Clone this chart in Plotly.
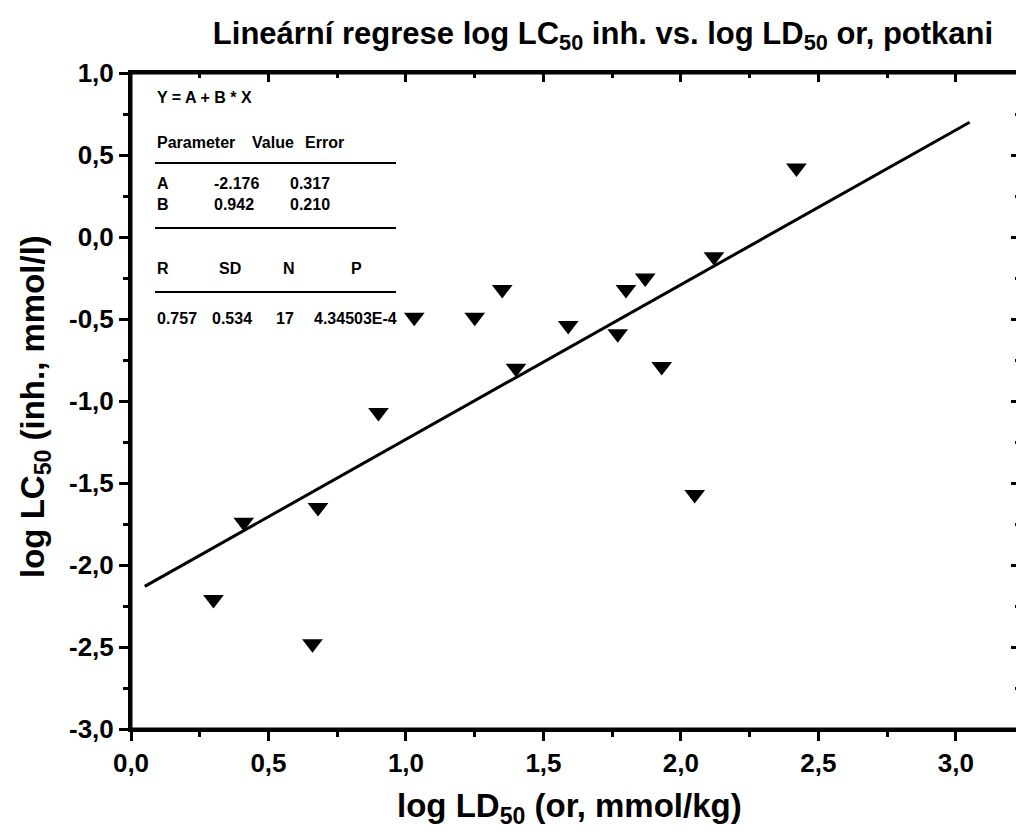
import plotly.graph_objects as go

# measured points (log LD50 oral, log LC50 inhalation)
ld50 = [0.30, 0.41, 0.66, 0.68, 0.90, 1.03, 1.25, 1.35, 1.40, 1.59,
        1.77, 1.80, 1.87, 1.93, 2.05, 2.12, 2.42]
lc50 = [-2.21, -1.74, -2.48, -1.65, -1.07, -0.49, -0.49, -0.32, -0.80, -0.54,
        -0.59, -0.32, -0.25, -0.79, -1.57, -0.12, 0.42]

# regression line ends
fit_x = [0.05, 3.05]
fit_y = [-2.13, 0.70]

x_ticks = [0.0, 0.5, 1.0, 1.5, 2.0, 2.5, 3.0]
x_labels = ["0,0", "0,5", "1,0", "1,5", "2,0", "2,5", "3,0"]
y_ticks = [-3.0, -2.5, -2.0, -1.5, -1.0, -0.5, 0.0, 0.5, 1.0]
y_labels = ["-3,0", "-2,5", "-2,0", "-1,5", "-1,0", "-0,5", "0,0", "0,5", "1,0"]

FONT = "Liberation Sans"
OFF = 8  # page body margin
W, H = 1024 - OFF, 839 - OFF
# plot area in page pixels
L, R, T, B = 131, 1020, 73, 729


def px(x):
    return (x - L) / (R - L)


def py(y):
    return (B - y) / (B - T)


fig = go.Figure()
fig.add_trace(go.Scatter(
    x=fit_x, y=fit_y, mode="lines",
    line=dict(color="black", width=3), showlegend=False,
))
fig.add_trace(go.Scatter(
    x=ld50, y=lc50, mode="markers",
    marker=dict(symbol="triangle-down", size=18, color="black"),
    showlegend=False,
))

axis_common = dict(
    showline=True, mirror=True, linecolor="black", linewidth=3, showgrid=False,
    automargin=False, zeroline=False, ticks="outside", ticklen=9, tickwidth=3,
    tickcolor="black", tickfont=dict(family=FONT, size=26, color="black", weight="bold"),
)
mirror_common = dict(
    showticklabels=False, automargin=False, showline=True, linecolor="black",
    linewidth=3, showgrid=False, zeroline=False, ticks="inside", ticklen=9,
    tickwidth=3, tickcolor="black", dtick=0.5,
)
title_font = dict(family=FONT, size=31, color="black", weight="bold")
axis_title_font = dict(family=FONT, size=33, color="black", weight="bold")

fig.update_layout(
    width=W, height=H,
    margin=dict(l=L - OFF, r=W - (R - OFF), t=T - OFF, b=H - (B - OFF)),
    plot_bgcolor="white", paper_bgcolor="white",
    title=dict(
        text="Lineární regrese log LC<sub>50</sub> inh. vs. log LD<sub>50</sub> or, potkani",
        x=(603 - OFF) / W, xanchor="center", y=1 - (33 - OFF) / H, yanchor="middle",
        font=title_font,
    ),
    xaxis=dict(
        range=[0, 3.233], tickmode="array", tickvals=x_ticks, ticktext=x_labels,
        minor=dict(ticks="outside", ticklen=5, tickwidth=3, tickcolor="black", dtick=0.25),
        **axis_common,
    ),
    yaxis=dict(
        range=[-3, 1], tickmode="array", tickvals=y_ticks, ticktext=y_labels,
        minor=dict(ticks="outside", ticklen=5, tickwidth=3, tickcolor="black", dtick=0.25),
        **axis_common,
    ),
    xaxis2=dict(
        overlaying="x", side="top", range=[0, 3.233], tick0=0,
        minor=dict(ticks="inside", ticklen=5, tickwidth=3, tickcolor="black", dtick=0.25),
        **mirror_common,
    ),
    yaxis2=dict(
        overlaying="y", side="right", range=[-3, 1], tick0=-3,
        minor=dict(ticks="inside", ticklen=5, tickwidth=3, tickcolor="black", dtick=0.25),
        **mirror_common,
    ),
)
# dummy trace so the mirrored axes are drawn
fig.add_trace(go.Scatter(x=[None], y=[None], xaxis="x2", yaxis="y2", showlegend=False))

# plot frame
fig.add_shape(
    type="rect", xref="paper", yref="paper", x0=0, x1=1, y0=0, y1=1,
    line=dict(color="black", width=3), layer="above",
)

# axis titles
fig.add_annotation(
    x=px(569), y=py(808), xref="paper", yref="paper", showarrow=False,
    text="log LD<sub>50</sub> (or, mmol/kg)", font=axis_title_font,
    xanchor="center", yanchor="middle",
)
fig.add_annotation(
    x=px(35), y=py(407), xref="paper", yref="paper", showarrow=False,
    text="log LC<sub>50</sub> (inh., mmol/l)", font=axis_title_font, textangle=-90,
    xanchor="center", yanchor="middle",
)

# fit-results box
box_font = dict(family=FONT, size=16, color="black", weight="bold")
rows = [
    (155, 97, "Y = A + B * X"),
    (155, 142, "Parameter"), (250, 142, "Value"), (303, 142, "Error"),
    (155, 183, "A"), (212, 183, "-2.176"), (288, 183, "0.317"),
    (155, 205, "B"), (212, 205, "0.942"), (288, 205, "0.210"),
    (155, 268, "R"), (217, 268, "SD"), (281, 268, "N"), (349, 268, "P"),
    (155, 318, "0.757"), (210, 318, "0.534"), (274, 318, "17"), (312, 318, "4.34503E-4"),
]
for x0, y0, txt in rows:
    fig.add_annotation(
        x=px(x0), y=py(y0), xref="paper", yref="paper", text=txt,
        showarrow=False, xanchor="left", yanchor="middle", font=box_font,
    )
for yl in [163, 228, 292]:
    fig.add_shape(
        type="line", xref="paper", yref="paper",
        x0=px(155), x1=px(396), y0=py(yl), y1=py(yl),
        line=dict(color="black", width=2),
    )

fig.write_html("out.html")
